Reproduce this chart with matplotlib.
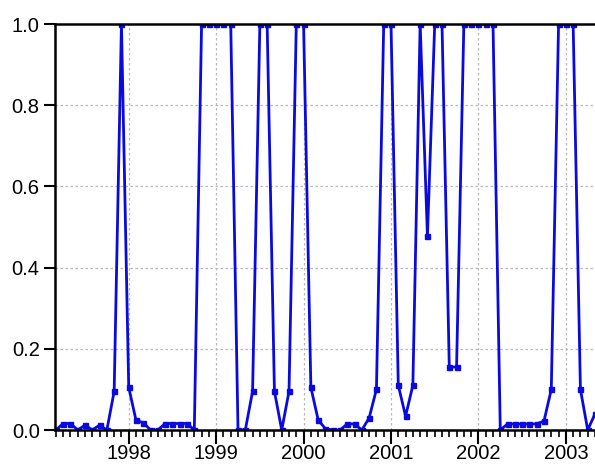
import matplotlib
matplotlib.use("Agg")
import matplotlib.pyplot as plt
import numpy as np

# monthly probabilities, 1997M03 .. 2003M05
start_year, start_month = 1997, 3
prob = [0.0, 0.016, 0.016, 0.0, 0.012, 0.0, 0.012, 0.0, 0.095, 1.0,
        0.105, 0.024, 0.018, 0.0, 0.0, 0.016, 0.016, 0.016, 0.016, 0.0,
        1.0, 1.0, 1.0, 1.0, 1.0, 0.0, 0.0, 0.095, 1.0, 1.0,
        0.095, 0.0, 0.095, 1.0, 1.0, 0.105, 0.025, 0.003, 0.0, 0.0,
        0.015, 0.015, 0.0, 0.03, 0.1, 1.0, 1.0, 0.11, 0.034, 0.11,
        1.0, 0.477, 1.0, 1.0, 0.155, 0.155, 1.0, 1.0, 1.0, 1.0,
        1.0, 0.0, 0.015, 0.015, 0.015, 0.015, 0.015, 0.022, 0.1, 1.0,
        1.0, 1.0, 0.1, 0.0, 0.04]
years = [1998, 1999, 2000, 2001, 2002, 2003]
yticks = [0.0, 0.2, 0.4, 0.6, 0.8, 1.0]

x = np.arange(len(prob))
year_pos = [(y - start_year) * 12 + 1 - start_month for y in years]

plt.rcParams['font.family'] = ['Liberation Sans', 'DejaVu Sans']
fig = plt.figure(figsize=(5.95, 4.66), dpi=100)
ax = fig.add_axes([55/595, 36/466, 540/595, 406/466])

ax.plot(x, prob, color='#0a0ae0', lw=2.0, marker='s', ms=3.6, clip_on=True)

ax.set_xlim(-0.12, 73.7)
ax.set_ylim(0, 1.0)
ax.set_yticks(yticks)
ax.set_yticklabels(['%.1f' % v for v in yticks])
ax.set_xticks(year_pos)
ax.set_xticklabels([str(y) for y in years])
ax.set_xticks(x, minor=True)

for v in yticks[1:-1]:
    ax.axhline(v, color='#b8b8b8', lw=0.9, ls=(0, (2, 2)), zorder=0)
for p in year_pos:
    ax.axvline(p, color='#b8b8b8', lw=0.9, ls=(0, (2, 2)), zorder=0)

for s in ['left', 'bottom', 'top']:
    ax.spines[s].set_linewidth(1.8)
ax.spines['right'].set_visible(False)
ax.tick_params(axis='y', direction='out', length=8, width=1.5, labelsize=14.5, pad=3)
ax.tick_params(axis='x', which='major', direction='out', length=10, width=1.5,
               labelsize=14.5, pad=0)
ax.tick_params(axis='x', which='minor', direction='out', length=5, width=1.2)

fig.savefig('out.png', dpi=100)
